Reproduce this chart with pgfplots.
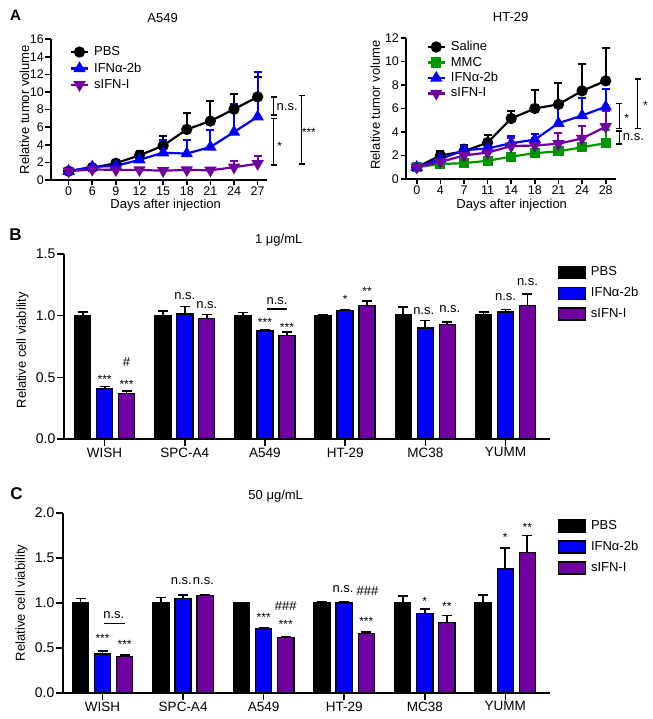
\documentclass[border=0pt]{standalone}
\usepackage{pgfplots}
\pgfplotsset{compat=1.18}
\usepackage{pgfplotstable}
\usepackage{fontspec}
\setmainfont{Liberation Sans}
\definecolor{cblue}{RGB}{0,0,255}
\definecolor{cpurp}{RGB}{112,0,160}
\definecolor{cgreen}{RGB}{0,150,0}
\newcommand{\fs}[1]{\fontsize{#1}{#1}\selectfont}
% bracket: x, x-left, x-right, y-top, y-bottom
\newcommand{\bracket}[5]{\draw[line width=1.5pt] (axis cs:#2,#4) -- (axis cs:#3,#4) (axis cs:#1,#4) -- (axis cs:#1,#5) (axis cs:#2,#5) -- (axis cs:#3,#5);}
\tikzset{
  ast/.style={font=\fs{12}, yshift=-2.5pt},
  nsn/.style={font=\fs{13}},
}
\pgfplotsset{
  gp/.style={scale only axis, clip=false, ymin=0,
    axis x line*=bottom, axis y line*=left,
    axis line style={line width=1.6pt, -},
    every tick/.style={line width=1.6pt, black},
    tick align=outside,
    /pgf/number format/assume math mode=true,
    tick label style={inner sep=1.5pt},
    legend cell align=left,
  },
  lp/.style={line width=2.2pt, mark size=4.5pt, mark options={solid},
    error bars/y dir=plus, error bars/y explicit,
    error bars/error bar style={line width=2pt},
    error bars/error mark options={rotate=90, line width=2pt, mark size=4pt}},
  bp/.style={draw=black, line width=1.4pt,
    error bars/y dir=plus, error bars/y explicit,
    error bars/error bar style={line width=1.8pt, black},
    error bars/error mark options={rotate=90, line width=1.8pt, mark size=5pt, black}},
}
\pgfplotstableread{
x p pe i ie s se
0 1.0 0.03 0.405 0.02 0.37 0.02
1 1.0 0.04 1.014 0.06 0.979 0.03
2 1.0 0.025 0.876 0.008 0.838 0.032
3 1.0 0.01 1.04 0.01 1.08 0.04
4 1.005 0.065 0.90 0.06 0.93 0.02
5 1.005 0.025 1.03 0.02 1.08 0.095
}\tabB
\pgfplotstableread{
x p pe i ie s se
0 1.007 0.043 0.433 0.037 0.404 0.016
1 1.0 0.06 1.05 0.04 1.08 0.01
2 1.0 0.005 0.71 0.015 0.615 0.01
3 1.0 0.01 1.0 0.01 0.663 0.017
4 1.007 0.073 0.885 0.045 0.785 0.075
5 1.007 0.083 1.378 0.232 1.56 0.19
}\tabC
\begin{document}
\fs{13}
\begin{tikzpicture}[x=1pt,y=1pt]
\useasboundingbox (0,0) rectangle (649,719);
% ---------------- A left
\begin{axis}[gp, at={(47.3pt,539pt)}, anchor=south west, width=215.7pt, height=140.7pt,
  xmin=-0.75, xmax=8.38, ymax=16, ytick={0,2,...,16}, major tick length=5.5pt,
  xtick={0,...,8}, xticklabels={0,6,9,12,15,18,21,24,27},
  tick label style={font=\fs{12.5}},
  xlabel={Days after injection}, xlabel style={at={(axis description cs:0.532,-0.178)}, anchor=center, font=\fs{13}},
  ylabel={Relative tumor volume}, ylabel style={at={(axis description cs:-0.122,0.5)}, anchor=center, font=\fs{13}},
  legend style={at={(axis description cs:0.087,0.957)}, anchor=north west, draw=none, fill=none, inner sep=0pt, row sep=3.2pt, nodes={inner sep=1pt}, font=\fs{13}, /tikz/every odd column/.append style={column sep=4pt}},
]
\addplot[lp, black, mark=*] table[x=x,y=y,y error=e]{
x y e
0 1.0 0.15
1 1.4 0.2
2 1.9 0.3
3 2.8 0.5
4 3.9 1.1
5 5.75 1.85
6 6.7 2.3
7 8.05 1.7
8 9.45 2.25
};
\addlegendentry{PBS}
\addplot[lp, cblue, mark=triangle*, mark size=5pt] table[x=x,y=y,y error=e]{
x y e
0 1.0 0.1
1 1.5 0.15
2 1.6 0.4
3 2.3 0.5
4 3.1 1.45
5 3.0 1.55
6 3.75 1.9
7 5.45 3.15
8 7.2 5.1
};
\addlegendentry{IFNα-2b}
\addplot[lp, cpurp, mark=triangle*, mark size=5pt, mark options={rotate=180}] table[x=x,y=y,y error=e]{
x y e
0 1.0 0.1
1 1.2 0.15
2 1.15 0.1
3 1.15 0.1
4 1.05 0.1
5 1.15 0.1
6 1.1 0.1
7 1.45 0.75
8 1.85 0.9
};
\addlegendentry{sIFN-I}
\bracket{8.68}{8.55}{8.81}{9.45}{7.4}
\bracket{8.68}{8.55}{8.81}{7.0}{1.7}
\bracket{9.86}{9.73}{9.99}{9.6}{1.8}
\node[nsn, anchor=west, inner sep=0pt] at (axis cs:8.8,8.3) {n.s.};
\node[ast] at (axis cs:8.93,4.16) {*};
\node[ast] at (axis cs:10.17,5.67) {***};
\node[font=\fs{13}] at (axis description cs:0.518,1.151) {A549};
\end{axis}
% ---------------- A right
\begin{axis}[gp, at={(402.5pt,540pt)}, anchor=south west, width=209.5pt, height=141pt,
  xmin=-0.45, xmax=8.42, ymax=12, ytick={0,2,...,12}, major tick length=5.5pt,
  xtick={0,...,8}, xticklabels={0,4,7,11,14,18,21,24,28},
  tick label style={font=\fs{12.5}},
  xlabel={Days after injection}, xlabel style={at={(axis description cs:0.504,-0.184)}, anchor=center, font=\fs{13}},
  ylabel={Relative tumor volume}, ylabel style={at={(axis description cs:-0.148,0.525)}, anchor=center, font=\fs{13}},
  legend style={at={(axis description cs:0.097,0.985)}, anchor=north west, draw=none, fill=none, inner sep=0pt, row sep=2.3pt, nodes={inner sep=1pt}, font=\fs{13}, /tikz/every odd column/.append style={column sep=4pt}},
]
\addplot[lp, black, mark=*] table[x=x,y=y,y error=e]{
x y e
0 1.0 0.1
1 2.0 0.4
2 2.35 0.55
3 3.1 0.65
4 5.15 0.65
5 6.0 1.6
6 6.35 1.8
7 7.5 2.25
8 8.35 2.8
};
\addlegendentry{Saline}
\addplot[lp, cgreen, mark=square*, mark size=4pt] table[x=x,y=y,y error=e]{
x y e
0 1.0 0.05
1 1.27 0.1
2 1.35 0.1
3 1.55 0.1
4 1.9 0.1
5 2.2 0.1
6 2.35 0.1
7 2.7 0.1
8 3.05 1.1
};
\addlegendentry{MMC}
\addplot[lp, cblue, mark=triangle*, mark size=5pt] table[x=x,y=y,y error=e]{
x y e
0 1.0 0.1
1 1.7 0.3
2 2.45 0.35
3 2.6 0.3
4 3.05 0.65
5 3.35 0.5
6 4.75 1.55
7 5.4 1.5
8 6.15 1.5
};
\addlegendentry{IFNα-2b}
\addplot[lp, cpurp, mark=triangle*, mark size=5pt, mark options={rotate=180}] table[x=x,y=y,y error=e]{
x y e
0 1.0 0.05
1 1.45 0.15
2 2.0 0.2
3 2.25 0.2
4 2.8 0.7
5 2.85 0.65
6 3.0 0.95
7 3.45 1.05
8 4.45 1.3
};
\addlegendentry{sIFN-I}
\bracket{8.58}{8.45}{8.71}{6.44}{4.29}
\bracket{8.58}{8.45}{8.71}{4.1}{2.97}
\bracket{9.35}{9.22}{9.48}{8.53}{4.29}
\node[nsn, anchor=west, inner sep=0pt] at (axis cs:8.72,3.59) {n.s.};
\node[ast] at (axis cs:8.89,5.37) {*};
\node[ast] at (axis cs:9.68,6.5) {*};
\node[font=\fs{13}] at (axis description cs:0.499,1.149) {HT-29};
\end{axis}
% ---------------- B
\begin{axis}[gp, ybar, bar width=0.2,
  at={(60.5pt,280pt)}, anchor=south west, width=485.5pt, height=185pt,
  xmin=-0.505, xmax=5.55, ymax=1.5, ytick={0,0.5,1,1.5}, major tick length=7pt,
  yticklabel style={/pgf/number format/fixed, /pgf/number format/fixed zerofill, /pgf/number format/precision=1, font=\fs{14}},
  xtick={0,...,5}, xticklabels={WISH,SPC-A4,A549,HT-29,MC38,YUMM},
  xticklabel style={font=\fs{13.5}},
  ylabel={Relative cell viability}, ylabel style={at={(axis description cs:-0.0855,0.48)}, anchor=center, font=\fs{13}},
  legend image code/.code={\draw[#1] (0pt,-6pt) rectangle (27pt,6pt);},
  legend style={at={(axis description cs:1.016,0.938)}, anchor=north west, draw=none, fill=none, inner sep=0pt, row sep=7.5pt, nodes={inner sep=1pt}, font=\fs{13}, /tikz/every odd column/.append style={column sep=4pt}},
]
\addplot[bp, fill=black, bar shift=-0.274] table[x=x,y=p,y error=pe]{\tabB};
\addlegendentry{PBS}
\addplot[bp, fill=cblue, bar shift=0] table[x=x,y=i,y error=ie]{\tabB};
\addlegendentry{IFNα-2b}
\addplot[bp, fill=cpurp, bar shift=0.274] table[x=x,y=s,y error=se]{\tabB};
\addlegendentry{sIFN-I}
\node[ast] at (axis cs:0,0.505) {***};
\node[ast] at (axis cs:0.274,0.465) {***};
\node[nsn] at (axis cs:0.274,0.62) {\#};
\node[nsn] at (axis cs:1,1.155) {n.s.};
\node[nsn] at (axis cs:1.274,1.087) {n.s.};
\node[ast] at (axis cs:2,0.965) {***};
\node[ast] at (axis cs:2.274,0.925) {***};
\draw[line width=1.3pt] (axis cs:2.025,1.054) -- (axis cs:2.274,1.054);
\node[nsn] at (axis cs:2.15,1.12) {n.s.};
\node[ast] at (axis cs:3,1.155) {*};
\node[ast] at (axis cs:3.274,1.216) {**};
\node[nsn] at (axis cs:3.98,1.04) {n.s.};
\node[nsn] at (axis cs:4.305,1.054) {n.s.};
\node[nsn] at (axis cs:5,1.15) {n.s.};
\node[nsn] at (axis cs:5.274,1.275) {n.s.};
\node[font=\fs{13}] at (axis description cs:0.442,1.0757) {1 μg/mL};
\end{axis}
% ---------------- C
\begin{axis}[gp, ybar, bar width=0.2,
  at={(59.5pt,26pt)}, anchor=south west, width=486.5pt, height=180pt,
  xmin=-0.49, xmax=5.55, ymax=2, ytick={0,0.5,1,1.5,2}, major tick length=7pt,
  yticklabel style={/pgf/number format/fixed, /pgf/number format/fixed zerofill, /pgf/number format/precision=1, font=\fs{14}},
  xtick={0,...,5}, xticklabels={WISH,SPC-A4,A549,HT-29,MC38,YUMM},
  xticklabel style={font=\fs{13.5}},
  ylabel={Relative cell viability}, ylabel style={at={(axis description cs:-0.0853,0.5)}, anchor=center, font=\fs{13}},
  legend image code/.code={\draw[#1] (0pt,-6pt) rectangle (27pt,6pt);},
  legend style={at={(axis description cs:1.016,0.966)}, anchor=north west, draw=none, fill=none, inner sep=0pt, row sep=7.5pt, nodes={inner sep=1pt}, font=\fs{13}, /tikz/every odd column/.append style={column sep=4pt}},
]
\addplot[bp, fill=black, bar shift=-0.274] table[x=x,y=p,y error=pe]{\tabC};
\addlegendentry{PBS}
\addplot[bp, fill=cblue, bar shift=0] table[x=x,y=i,y error=ie]{\tabC};
\addlegendentry{IFNα-2b}
\addplot[bp, fill=cpurp, bar shift=0.274] table[x=x,y=s,y error=se]{\tabC};
\addlegendentry{sIFN-I}
\node[ast] at (axis cs:0,0.63) {***};
\node[ast] at (axis cs:0.274,0.57) {***};
\draw[line width=1.3pt] (axis cs:0.015,0.774) -- (axis cs:0.277,0.774);
\node[nsn] at (axis cs:0.14,0.87) {n.s.};
\node[nsn] at (axis cs:0.978,1.24) {n.s.};
\node[nsn] at (axis cs:1.252,1.24) {n.s.};
\node[ast] at (axis cs:2,0.867) {***};
\node[ast] at (axis cs:2.274,0.79) {***};
\node[nsn] at (axis cs:2.274,0.97) {\#\#\#};
\node[nsn] at (axis cs:2.985,1.16) {n.s.};
\node[nsn] at (axis cs:3.29,1.13) {\#\#\#};
\node[ast] at (axis cs:3.274,0.82) {***};
\node[ast] at (axis cs:4,1.05) {*};
\node[ast] at (axis cs:4.274,0.985) {**};
\node[ast] at (axis cs:5,1.76) {*};
\node[ast] at (axis cs:5.274,1.87) {**};
\node[font=\fs{13}] at (axis description cs:0.437,1.094) {50 μg/mL};
\end{axis}
\node[font=\bfseries\fs{15}] at (12pt,704pt) {A};
\node[font=\bfseries\fs{17}] at (12pt,484pt) {B};
\node[font=\bfseries\fs{17}] at (13pt,225pt) {C};
\end{tikzpicture}
\end{document}
